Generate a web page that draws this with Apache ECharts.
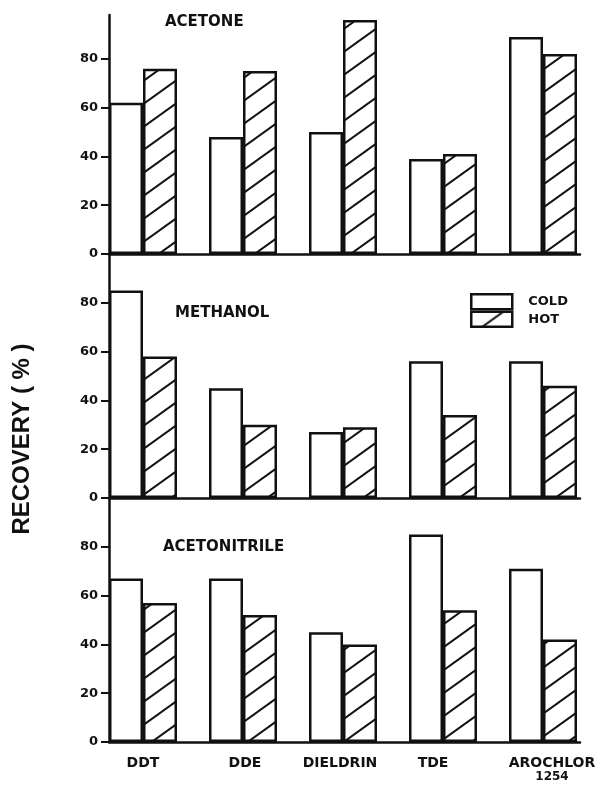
<!DOCTYPE html>
<html>
<head>
<meta charset="utf-8">
<script src="https://cdn.jsdelivr.net/npm/echarts@6/dist/echarts.min.js"></script>
<style>
  html, body { margin: 0; padding: 0; background: #fff; }
  #chart { width: 602px; height: 785px; }
</style>
</head>
<body>
<div id="chart"></div>
<script>
// Pesticide recovery (%) by extraction solvent, cold vs hot extraction
const categories = ['DDT', 'DDE', 'DIELDRIN', 'TDE', 'AROCHLOR\n1254'];
const solvents = ['ACETONE', 'METHANOL', 'ACETONITRILE'];
const seriesNames = ['COLD', 'HOT'];

const acetoneCold = [62, 48, 50, 39, 89];
const acetoneHot = [76, 75, 96, 41, 82];
const methanolCold = [85, 45, 27, 56, 56];
const methanolHot = [58, 30, 29, 34, 46];
const acetonitrileCold = [67, 67, 45, 85, 71];
const acetonitrileHot = [57, 52, 40, 54, 42];

const yTickValues = [0, 20, 40, 60, 80];
const yAxisLabel = 'RECOVERY ( % )';

// ---- styling / layout ----
const INK = '#111';
const FONT = 'DejaVu Sans';
const panelTops = [15, 254, 498];
const panelHeights = [239, 244, 244];
const panelMax = [98, 100, 100];
const titlePos = [[165, 14], [175, 305], [163, 539]];
const labelNudge = [0, 0.02, -0.03, -0.1, 0.09];

// diagonal hatch tile for the hot-extraction bars
function hatchTile() {
  const W = 32, H = 23;
  const c = document.createElement('canvas');
  c.width = W; c.height = H;
  const g = c.getContext('2d');
  g.fillStyle = '#fff';
  g.fillRect(0, 0, W, H);
  g.strokeStyle = INK;
  g.lineWidth = 2;
  for (const dy of [-H, 0, H]) {
    g.beginPath();
    g.moveTo(-W, 2 * H + dy);
    g.lineTo(2 * W, -H + dy);
    g.stroke();
  }
  return c;
}
const hatch = { image: hatchTile(), repeat: 'repeat' };

const panelData = [
  [acetoneCold, acetoneHot],
  [methanolCold, methanolHot],
  [acetonitrileCold, acetonitrileHot]
];

const grids = [], xAxes = [], yAxes = [], series = [], titles = [];
solvents.forEach((name, i) => {
  grids.push({ left: 109, width: 471, top: panelTops[i], height: panelHeights[i] });
  titles.push({
    text: name, left: titlePos[i][0], top: titlePos[i][1], padding: 0,
    textStyle: { fontFamily: FONT, fontWeight: 'bold', fontSize: 15, lineHeight: 16, color: INK }
  });
  const isBottom = i === solvents.length - 1;
  xAxes.push({
    type: 'value', gridIndex: i, min: -0.34, max: 4.37,
    axisLine: { show: true, onZero: false, lineStyle: { color: INK, width: 2.5 } },
    axisTick: { show: false },
    splitLine: { show: false },
    axisLabel: isBottom ? {
      show: true,
      customValues: categories.map((c, k) => k + labelNudge[k]),
      margin: 14,
      formatter: v => {
        const parts = categories[Math.round(v)].split('\n');
        return parts.length > 1 ? '{a|' + parts[0] + '}\n{b|' + parts[1] + '}' : '{a|' + parts[0] + '}';
      },
      rich: {
        a: { fontFamily: FONT, fontWeight: 'bold', fontSize: 14, lineHeight: 14, color: INK },
        b: { fontFamily: FONT, fontWeight: 'bold', fontSize: 12, lineHeight: 14, color: INK }
      }
    } : { show: false }
  });
  yAxes.push({
    type: 'value', gridIndex: i, min: 0, max: panelMax[i],
    axisLine: { show: true, onZero: false, lineStyle: { color: INK, width: 2.5 } },
    axisTick: { show: true, length: 8, customValues: yTickValues, lineStyle: { color: INK, width: 2 } },
    axisLabel: {
      customValues: yTickValues, margin: 11, color: INK,
      fontFamily: FONT, fontWeight: 'bold', fontSize: 13
    },
    splitLine: { show: false },
    z: 5
  });
  panelData[i].forEach((vals, s) => {
    series.push({
      type: 'bar', name: seriesNames[s],
      xAxisIndex: i, yAxisIndex: i,
      barWidth: 34, barGap: '0%', clip: false,
      itemStyle: {
        color: s === 0 ? '#fff' : hatch,
        borderColor: INK, borderWidth: 2.5
      },
      data: vals.map((v, k) => [k, v])
    });
  });
});

const chart = echarts.init(document.getElementById('chart'), null, { renderer: 'canvas' });
chart.setOption({
  backgroundColor: '#fff',
  animation: false,
  title: titles,
  grid: grids,
  xAxis: xAxes,
  yAxis: yAxes,
  series: series,
  legend: {
    data: seriesNames.map(n => ({ name: n, icon: 'rect' })),
    orient: 'vertical',
    left: 470, top: 293,
    padding: 0,
    itemWidth: 41, itemHeight: 15, itemGap: 0,
    textStyle: { fontFamily: FONT, fontWeight: 'bold', fontSize: 13, color: INK, padding: [0, 0, 0, 11] },
    itemStyle: { borderColor: INK, borderWidth: 2.5 }
  },
  graphic: [{
    type: 'text', x: 22, y: 439, rotation: Math.PI / 2,
    style: {
      text: yAxisLabel, align: 'center', verticalAlign: 'middle',
      font: 'bold 24px "Liberation Sans"', fill: INK
    }
  }]
});
</script>
</body>
</html>
